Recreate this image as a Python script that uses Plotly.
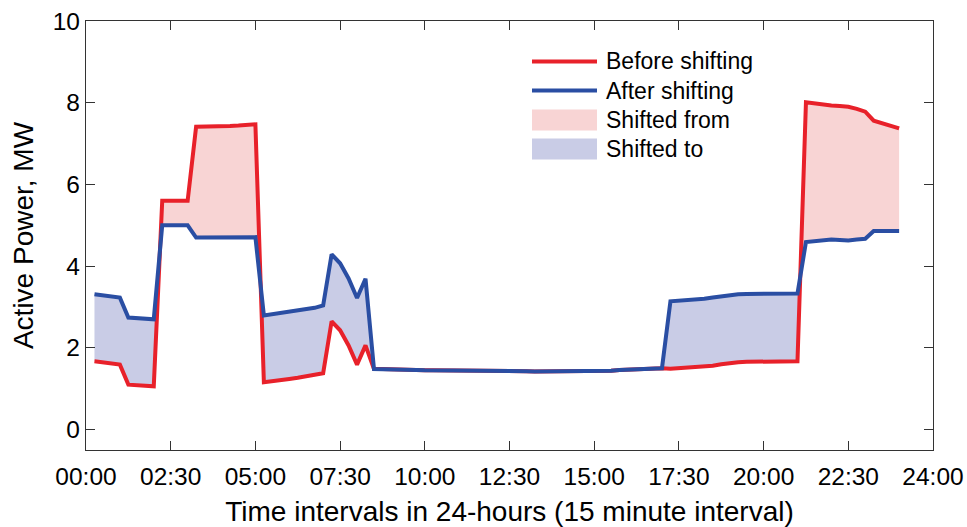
import numpy as np
import plotly.graph_objects as go

# ---- data (15-minute intervals, index 1..96) ----
intervals = list(range(1, 97))
before_shifting = [
    1.67, 1.65, 1.62, 1.59, 1.10, 1.09, 1.08, 1.06, 5.60, 5.60,
    5.60, 5.60, 7.41, 7.41, 7.42, 7.42, 7.43, 7.44, 7.46, 7.47,
    1.16, 1.18, 1.21, 1.24, 1.27, 1.30, 1.33, 1.38, 2.65, 2.43,
    2.06, 1.59, 2.06, 1.48, 1.48, 1.47, 1.47, 1.46, 1.46, 1.45,
    1.45, 1.45, 1.45, 1.44, 1.44, 1.44, 1.44, 1.44, 1.43, 1.43,
    1.43, 1.43, 1.42, 1.42, 1.42, 1.42, 1.42, 1.42, 1.42, 1.42,
    1.43, 1.44, 1.46, 1.47, 1.48, 1.48, 1.49, 1.50, 1.49, 1.50,
    1.51, 1.52, 1.54, 1.56, 1.60, 1.63, 1.65, 1.66, 1.66, 1.66,
    1.67, 1.67, 1.67, 1.67, 8.01, 7.98, 7.96, 7.93, 7.92, 7.90,
    7.85, 7.78, 7.56, 7.49, 7.43, 7.37,
]
after_shifting = [
    3.31, 3.29, 3.26, 3.23, 2.74, 2.73, 2.71, 2.70, 5.00, 5.00,
    5.00, 5.00, 4.70, 4.70, 4.70, 4.70, 4.70, 4.71, 4.71, 4.71,
    2.79, 2.82, 2.85, 2.88, 2.91, 2.94, 2.98, 3.04, 4.29, 4.07,
    3.70, 3.22, 3.69, 1.48, 1.48, 1.47, 1.47, 1.46, 1.46, 1.45,
    1.45, 1.45, 1.45, 1.44, 1.44, 1.44, 1.44, 1.44, 1.43, 1.43,
    1.43, 1.43, 1.42, 1.42, 1.42, 1.42, 1.42, 1.42, 1.42, 1.42,
    1.43, 1.44, 1.46, 1.47, 1.48, 1.48, 1.49, 1.50, 3.14, 3.15,
    3.16, 3.18, 3.20, 3.23, 3.26, 3.29, 3.31, 3.32, 3.32, 3.33,
    3.33, 3.33, 3.33, 3.33, 4.59, 4.61, 4.63, 4.65, 4.64, 4.63,
    4.65, 4.67, 4.86, 4.86, 4.86, 4.86,
]
tick_vals = [0, 10, 20, 30, 40, 50, 60, 70, 80, 90, 100]
tick_labels = ["00:00", "02:30", "05:00", "07:30", "10:00", "12:30",
               "15:00", "17:30", "20:00", "22:30", "24:00"]
legend_names = ["Before shifting", "After shifting", "Shifted from", "Shifted to"]

# ---- refine grid with crossing points so fills split exactly ----
x = np.array(intervals, dtype=float)
r = np.array(before_shifting)
b = np.array(after_shifting)
xs, rs, bs = [x[0]], [r[0]], [b[0]]
for i in range(len(x) - 1):
    d0 = r[i] - b[i]
    d1 = r[i + 1] - b[i + 1]
    if d0 * d1 < 0:
        t = d0 / (d0 - d1)
        xc = x[i] + t * (x[i + 1] - x[i])
        yc = r[i] + t * (r[i + 1] - r[i])
        xs.append(xc); rs.append(yc); bs.append(yc)
    xs.append(x[i + 1]); rs.append(r[i + 1]); bs.append(b[i + 1])
xs = np.array(xs); rs = np.array(rs); bs = np.array(bs)
lo = np.minimum(rs, bs)

RED = "#E8212A"
BLUE = "#2A4EA3"
PINK = "#F8D4D4"
LAV = "#C9CCE6"
FONT = "Liberation Sans, Arial, Helvetica, sans-serif"
LW = 4

fig = go.Figure()
fig.add_trace(go.Scatter(x=xs, y=lo, mode="lines", line=dict(width=0),
                         showlegend=False, hoverinfo="skip"))
fig.add_trace(go.Scatter(x=xs, y=rs, mode="lines", line=dict(width=0),
                         fill="tonexty", fillcolor=PINK, name=legend_names[2],
                         showlegend=False))
fig.add_trace(go.Scatter(x=xs, y=lo, mode="lines", line=dict(width=0),
                         showlegend=False, hoverinfo="skip"))
fig.add_trace(go.Scatter(x=xs, y=bs, mode="lines", line=dict(width=0),
                         fill="tonexty", fillcolor=LAV, name=legend_names[3],
                         showlegend=False))
fig.add_trace(go.Scatter(x=intervals, y=before_shifting, mode="lines",
                         line=dict(color=RED, width=LW),
                         name=legend_names[0], showlegend=False))
fig.add_trace(go.Scatter(x=intervals, y=after_shifting, mode="lines",
                         line=dict(color=BLUE, width=LW),
                         name=legend_names[1], showlegend=False))

# ---- legend drawn in plot-area (paper) coordinates ----
L, T, W, H = 86, 21, 847, 429
def px(v):
    return (v - L) / W
def py(v):
    return (T + H - v) / H

sx0, sx1, tx = 532, 597, 604
centers = [61.5, 90.5, 120, 149]
shapes = [
    dict(type="line", xref="paper", yref="paper", x0=px(sx0), x1=px(sx1),
         y0=py(centers[0]), y1=py(centers[0]), line=dict(color=RED, width=LW)),
    dict(type="line", xref="paper", yref="paper", x0=px(sx0), x1=px(sx1),
         y0=py(centers[1]), y1=py(centers[1]), line=dict(color=BLUE, width=LW)),
    dict(type="rect", xref="paper", yref="paper", x0=px(sx0), x1=px(sx1),
         y0=py(centers[2] - 10.5), y1=py(centers[2] + 10.5),
         fillcolor=PINK, line=dict(width=0)),
    dict(type="rect", xref="paper", yref="paper", x0=px(sx0), x1=px(sx1),
         y0=py(centers[3] - 10.5), y1=py(centers[3] + 10.5),
         fillcolor=LAV, line=dict(width=0)),
]
annotations = [
    dict(text=name, xref="paper", yref="paper", x=px(tx), y=py(c),
         xanchor="left", yanchor="middle", showarrow=False,
         font=dict(family=FONT, size=23, color="#000000"))
    for name, c in zip(legend_names, centers)
]

axis_common = dict(
    showline=True, linecolor="#333333", linewidth=1.2, mirror="ticks",
    ticks="inside", ticklen=9, tickwidth=1.2, tickcolor="#333333",
    showgrid=False, zeroline=False, automargin=False,
    tickfont=dict(family=FONT, size=24.5, color="#000000"),
)

fig.update_layout(
    width=967, height=527,
    margin=dict(l=L, r=967 - L - W, t=T, b=527 - T - H),
    paper_bgcolor="white", plot_bgcolor="white",
    font=dict(family=FONT, color="#000000"),
    xaxis=dict(range=[0, 100], tickvals=tick_vals, ticktext=tick_labels,
               ticklabelstandoff=4,
               title=dict(text="Time intervals in 24-hours (15 minute interval)",
                          font=dict(family=FONT, size=28), standoff=12),
               **axis_common),
    yaxis=dict(range=[-0.5, 10], tickvals=[0, 2, 4, 6, 8, 10],
               title=dict(text="Active Power, MW",
                          font=dict(family=FONT, size=28), standoff=10),
               **axis_common),
    shapes=shapes,
    annotations=annotations,
    showlegend=False,
)

fig.write_html("out.html")
